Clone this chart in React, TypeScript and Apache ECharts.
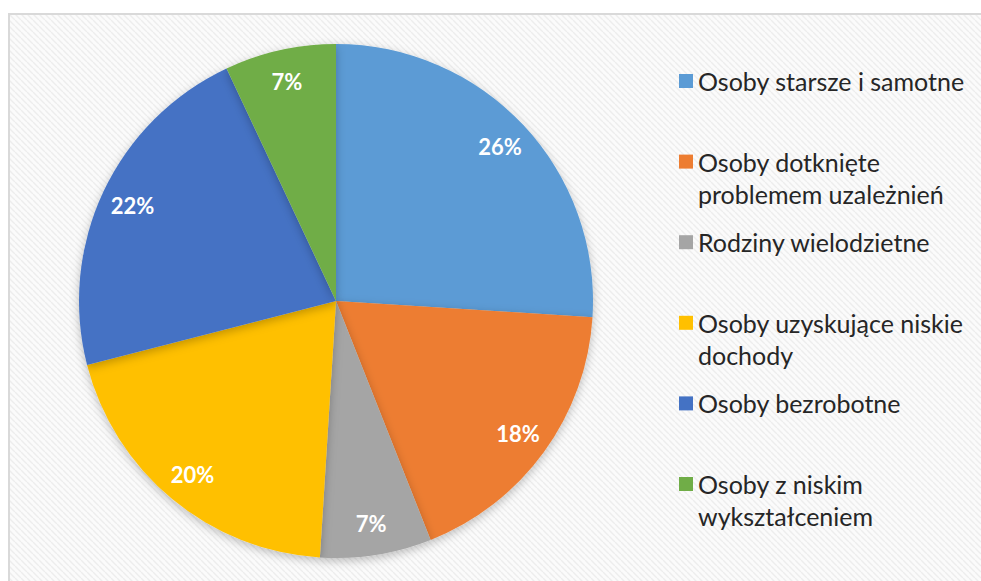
import React, { useEffect, useRef } from "react";
import * as echarts from "echarts";

const categories = [
  "Osoby starsze i samotne",
  "Osoby dotknięte problemem uzależnień",
  "Rodziny wielodzietne",
  "Osoby uzyskujące niskie dochody",
  "Osoby bezrobotne",
  "Osoby z niskim wykształceniem",
];
const legendLabels = [
  "Osoby starsze i samotne",
  "Osoby dotknięte\nproblemem uzależnień",
  "Rodziny wielodzietne",
  "Osoby uzyskujące niskie\ndochody",
  "Osoby bezrobotne",
  "Osoby z niskim\nwykształceniem",
];
const values = [26, 18, 7, 20, 22, 7];
const colors = ["#5B9BD5", "#ED7D31", "#A5A5A5", "#FFC000", "#4472C4", "#70AD47"];

function makePattern() {
  const c = document.createElement("canvas");
  c.width = 6;
  c.height = 6;
  const ctx = c.getContext("2d");
  if (ctx) {
    ctx.fillStyle = "#fbfbfb";
    ctx.fillRect(0, 0, 6, 6);
    ctx.strokeStyle = "#ededed";
    ctx.lineWidth = 1.4;
    ctx.beginPath();
    for (const k of [-6, 0, 6]) {
      ctx.moveTo(k, 0);
      ctx.lineTo(k + 6, 6);
    }
    ctx.stroke();
  }
  return c;
}

export default function App() {
  const ref = useRef<HTMLDivElement>(null);
  useEffect(() => {
    document.body.style.margin = "0";
    if (!ref.current) return;
    const chart = echarts.init(ref.current, null, { renderer: "svg" });
    const data = categories.map((name, i) => ({
      name,
      value: values[i],
      itemStyle: { color: colors[i] },
    }));
    // three-line block: blank line above so the first real line sits on the icon
    const lines = (name: string) => {
      const lbl = legendLabels[categories.indexOf(name)] || name;
      return " \n" + (lbl.includes("\n") ? lbl : lbl + "\n ");
    };
    chart.setOption({
      animation: false,
      backgroundColor: "#ffffff",
      graphic: [
        {
          type: "rect",
          left: 8,
          top: 13,
          z: -10,
          silent: true,
          shape: { width: 990, height: 590 },
          style: {
            fill: { image: makePattern(), repeat: "repeat" },
            stroke: "#d9d9d9",
            lineWidth: 2,
          },
        },
      ],
      legend: {
        orient: "vertical",
        left: 679,
        top: 33,
        padding: 0,
        itemWidth: 14,
        itemHeight: 14,
        itemGap: -15.4,
        icon: "rect",
        data: categories,
        formatter: lines,
        textStyle: {
          fontFamily: "Lato",
          fontSize: 25,
          lineHeight: 32,
          color: "#262626",
        },
      },
      series: [
        {
          type: "pie",
          center: [336, 301],
          radius: [0, 257],
          startAngle: 90,
          clockwise: true,
          label: { show: false },
          labelLine: { show: false },
          itemStyle: {
            shadowBlur: 10,
            shadowColor: "rgba(0,0,0,0.25)",
            shadowOffsetY: 3,
          },
          data,
        },
        {
          type: "pie",
          center: [336, 301],
          radius: [0, 444],
          startAngle: 90,
          clockwise: true,
          silent: true,
          itemStyle: { color: "transparent" },
          label: {
            show: true,
            position: "inside",
            formatter: "{c}%",
            color: "#ffffff",
            fontFamily: "Lato",
            fontWeight: "bold",
            fontSize: 22,
          },
          labelLine: { show: false },
          data: categories.map((name, i) => ({ name, value: values[i] })),
        },
      ],
    });
    return () => chart.dispose();
  }, []);
  return <div ref={ref} style={{ width: 981, height: 581 }} />;
}
